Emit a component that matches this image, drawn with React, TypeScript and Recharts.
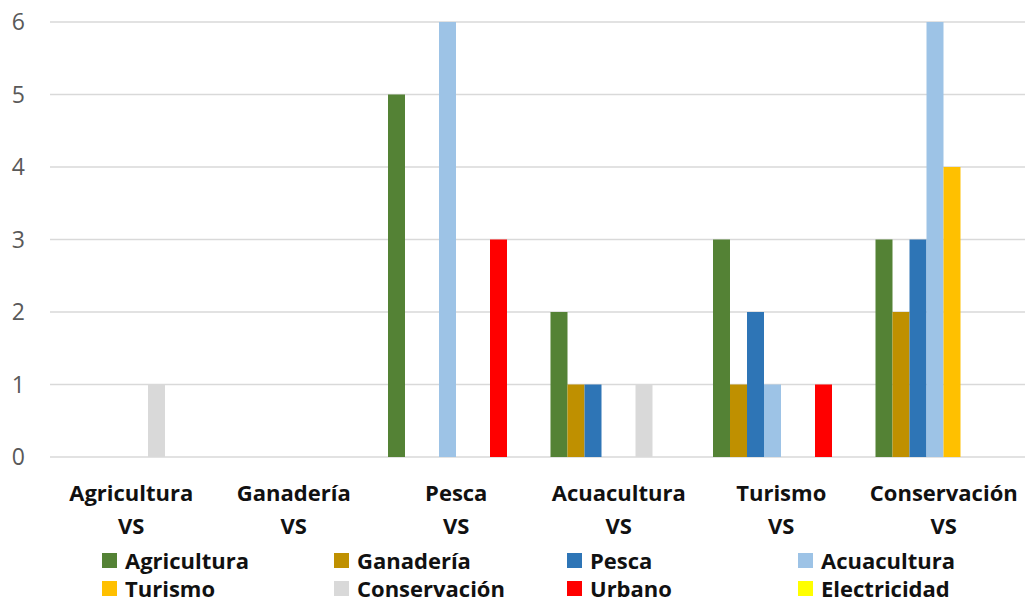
import React from 'react';
import { BarChart, Bar, XAxis, YAxis, CartesianGrid, Legend } from 'recharts';

const categories = ['Agricultura', 'Ganadería', 'Pesca', 'Acuacultura', 'Turismo', 'Conservación'];
const agricultura = [0, 0, 5, 2, 3, 3];
const ganaderia = [0, 0, 0, 1, 1, 2];
const pesca = [0, 0, 0, 1, 2, 3];
const acuacultura = [0, 0, 6, 0, 1, 6];
const turismo = [0, 0, 0, 0, 0, 4];
const conservacion = [1, 0, 0, 1, 0, 0];
const urbano = [0, 0, 3, 0, 1, 0];
const electricidad = [0, 0, 0, 0, 0, 0];
const yTicks = [0, 1, 2, 3, 4, 5, 6];

const series = [
  { key: 'Agricultura', values: agricultura, color: '#548235' },
  { key: 'Ganadería', values: ganaderia, color: '#bf9000' },
  { key: 'Pesca', values: pesca, color: '#2e75b6' },
  { key: 'Acuacultura', values: acuacultura, color: '#9dc3e6' },
  { key: 'Turismo', values: turismo, color: '#ffc000' },
  { key: 'Conservación', values: conservacion, color: '#d9d9d9' },
  { key: 'Urbano', values: urbano, color: '#ff0000' },
  { key: 'Electricidad', values: electricidad, color: '#ffff00' },
];

const data = categories.map((c, i) => {
  const row: Record<string, any> = { name: c };
  series.forEach((s) => (row[s.key] = s.values[i]));
  return row;
});

const FONT = 'Open Sans, DejaVu Sans, sans-serif';

const XTick = (props: any) => {
  const { x, y, payload } = props;
  return (
    <g>
      <text x={x} y={y + 36} textAnchor="middle" fontFamily={FONT} fontWeight={700} fontSize={22} fill="#111">
        {payload.value}
      </text>
      <text x={x} y={y + 69} textAnchor="middle" fontFamily={FONT} fontWeight={700} fontSize={22} fill="#111">
        VS
      </text>
    </g>
  );
};

const LegendContent = () => {
  const colX = [102, 334, 567, 798];
  return (
    <div style={{ position: 'relative', width: 1026, height: 52 }}>
      {series.map((s, i) => {
        const col = i % 4;
        const row = Math.floor(i / 4);
        return (
          <div
            key={s.key}
            style={{
              position: 'absolute',
              left: colX[col],
              top: row * 28,
              display: 'flex',
              alignItems: 'center',
              fontFamily: FONT,
              fontWeight: 700,
              fontSize: 22,
              color: '#111',
              lineHeight: '24px',
              height: 24,
              whiteSpace: 'nowrap',
            }}
          >
            <span style={{ display: 'inline-block', width: 15, height: 15, background: s.color, marginRight: 8 }} />
            {s.key}
          </div>
        );
      })}
    </div>
  );
};

export default function App() {
  return (
    <div style={{ position: 'absolute', left: 0, top: 0, background: '#fff' }}>
      <BarChart
        width={1026}
        height={604}
        data={data}
        margin={{ top: 22, right: 1, bottom: 0, left: 0 }}
        barGap={0}
      >
        <CartesianGrid vertical={false} stroke="#d9d9d9" strokeWidth={1.5} />
        <XAxis
          dataKey="name"
          axisLine={false}
          tickLine={false}
          tick={<XTick />}
          height={87}
          interval={0}
        />
        <YAxis
          domain={[0, 6]}
          ticks={yTicks}
          axisLine={false}
          tickLine={false}
          tickSize={0}
          tickMargin={25}
          width={50}
          tick={{ fill: '#595959', fontSize: 23, fontFamily: FONT }}
        />
        <Legend
          content={<LegendContent />}
          verticalAlign="bottom"
          height={60}
          wrapperStyle={{ position: 'absolute', left: 0, top: 548, width: 1026 }}
        />
        {series.map((s) => (
          <Bar key={s.key} dataKey={s.key} fill={s.color} barSize={17} isAnimationActive={false} />
        ))}
      </BarChart>
    </div>
  );
}
